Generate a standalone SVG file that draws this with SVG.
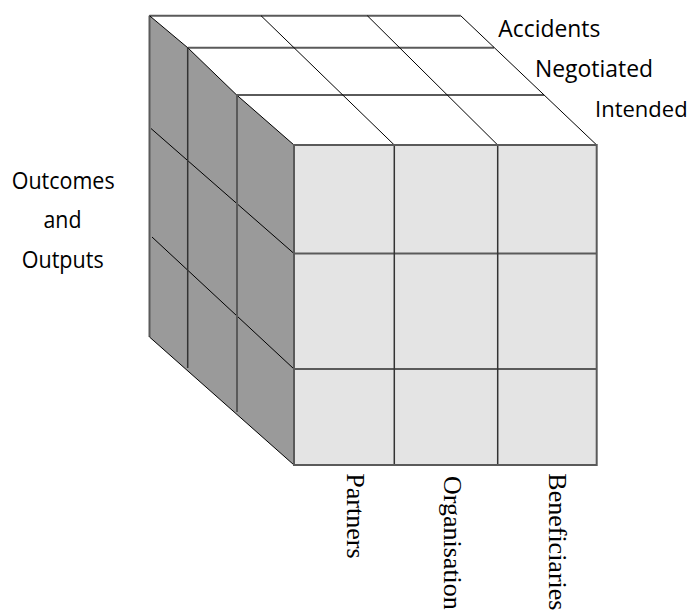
<svg xmlns="http://www.w3.org/2000/svg" width="691" height="610" viewBox="0 0 691 610">
<style>
.edge{stroke:#5a5a5a;stroke-width:2;fill:none}
.thin{stroke:#000;stroke-width:1;fill:none}
.div{stroke:#333;stroke-width:1.5;fill:none}
.sans{font-family:"Open Sans","Noto Sans",sans-serif;font-size:24px;fill:#000}
.serif{font-family:"Liberation Serif","Times New Roman",serif;font-size:26px;fill:#000}
</style>
<rect width="691" height="610" fill="#fff"/>
<g id="top-face">
<polygon points="149.5,15.7 460.7,15.7 596.7,145 294,145 236.7,95 187.7,47.7" fill="#fff"/>
<line class="edge" x1="149.5" y1="15.7" x2="460.7" y2="15.7"/>
<line class="edge" x1="187.7" y1="47.7" x2="494" y2="47.7"/>
<line class="edge" x1="236.7" y1="95" x2="544" y2="95"/>
<line class="thin" x1="261" y1="15.7" x2="394.3" y2="145"/>
<line class="thin" x1="367.3" y1="15.7" x2="497.7" y2="145"/>
<line class="thin" x1="460.7" y1="15.7" x2="596.7" y2="145"/>
</g>
<g id="left-face">
<polygon points="149.5,15.7 187.7,47.7 236.7,95 294,145 294,465 149.5,337" fill="#9a9a9a"/>
<line class="edge" x1="149.5" y1="15.7" x2="149.5" y2="337"/>
<polyline class="thin" points="149.5,15.7 187.7,47.7 236.7,95 294,145"/>
<line class="thin" x1="149.5" y1="337" x2="294" y2="465"/>
<line class="thin" x1="151" y1="128.5" x2="294" y2="253.5"/>
<line class="thin" x1="152" y1="237" x2="294" y2="369"/>
<line class="div" x1="187.7" y1="47.7" x2="187.7" y2="368"/>
<line class="edge" x1="237" y1="95" x2="237" y2="412"/>
</g>
<g id="front-face">
<rect x="294" y="145" width="302.7" height="320" fill="#e4e4e4"/>
<line class="edge" x1="294" y1="253.5" x2="596.7" y2="253.5"/>
<line class="edge" x1="294" y1="369" x2="596.7" y2="369"/>
<line class="div" x1="394.3" y1="145" x2="394.3" y2="465"/>
<line class="div" x1="497.7" y1="145" x2="497.7" y2="465"/>
<rect x="294" y="145" width="302.7" height="320" class="edge"/>
</g>
<g id="labels-depth">
<text class="sans" x="498.3" y="37.3" textLength="102" lengthAdjust="spacingAndGlyphs">Accidents</text>
<text class="sans" x="535" y="76.7" textLength="118" lengthAdjust="spacingAndGlyphs">Negotiated</text>
<text class="sans" x="595" y="116.7" style="font-size:22px">Intended</text>
</g>
<g id="labels-rows">
<text class="sans" x="11.7" y="189.3" textLength="103" lengthAdjust="spacingAndGlyphs">Outcomes</text>
<text class="sans" x="43.5" y="228.3" textLength="38" lengthAdjust="spacingAndGlyphs">and</text>
<text class="sans" x="21.7" y="268.3" textLength="82" lengthAdjust="spacingAndGlyphs">Outputs</text>
</g>
<g id="labels-columns">
<text class="serif" transform="translate(346.5,473.3) rotate(90)">Partners</text>
<text class="serif" transform="translate(444,476) rotate(90)">Organisation</text>
<text class="serif" transform="translate(548.5,473.3) rotate(90)">Beneficiaries</text>
</g>
</svg>
